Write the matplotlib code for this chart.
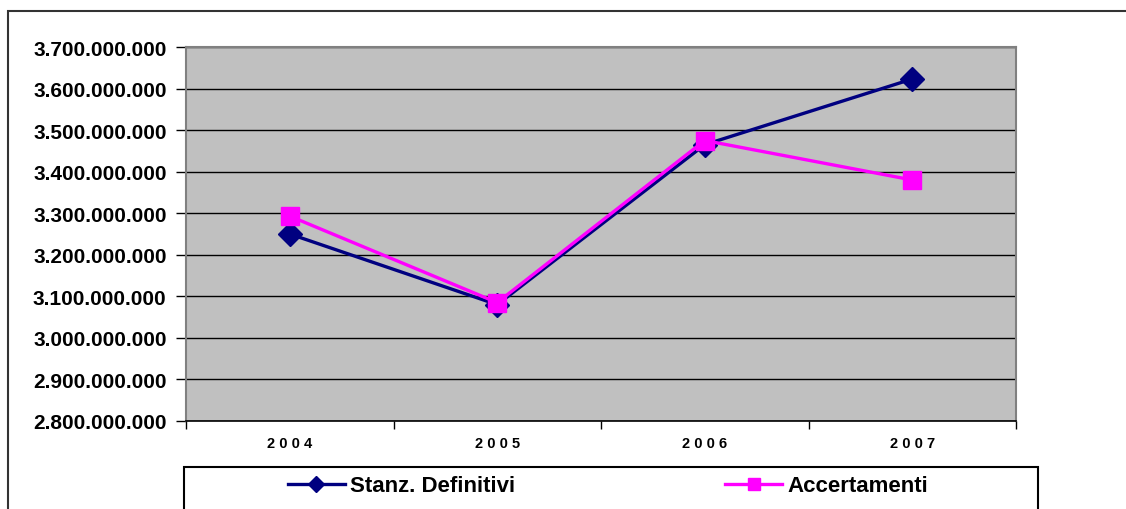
import matplotlib
matplotlib.use("Agg")
import matplotlib.pyplot as plt
from matplotlib.patches import Rectangle
from matplotlib.ticker import FixedLocator, FuncFormatter

years = ["2004", "2005", "2006", "2007"]
stanz = [3.250e9, 3.080e9, 3.465e9, 3.623e9]
accert = [3.293e9, 3.085e9, 3.475e9, 3.380e9]
yticks = [2.8e9, 2.9e9, 3.0e9, 3.1e9, 3.2e9, 3.3e9, 3.4e9, 3.5e9, 3.6e9, 3.7e9]

plt.rcParams['font.family'] = ['Liberation Sans', 'DejaVu Sans']

W, H = 1126, 510
fig = plt.figure(figsize=(W / 100, H / 100), dpi=100)
fig.patch.set_facecolor('white')

# outer chart frame
fig.patches.append(Rectangle((8 / W, -0.1), 1.2, (1 - 12 / H) + 0.1, transform=fig.transFigure,
                             fill=False, edgecolor='#333333', linewidth=1.5, clip_on=False))

ax = fig.add_axes([186 / W, 1 - 422 / H, (1016 - 186) / W, (422 - 48) / H])
ax.set_facecolor('#C0C0C0')

x = list(range(len(years)))
ax.plot(x, stanz, color='#000080', linewidth=2.4, marker='D', markersize=12,
        label='Stanz. Definitivi', zorder=3)
ax.plot(x, accert, color='#FF00FF', linewidth=2.4, marker='s', markersize=13.5,
        label='Accertamenti', zorder=4)

ax.set_xlim(-0.5, len(years) - 0.5)
ax.set_ylim(yticks[0], yticks[-1])
ax.set_yticks(yticks)
ax.yaxis.set_major_formatter(FuncFormatter(lambda v, p: f"{int(round(v)):,}".replace(",", ".")))
ax.grid(axis='y', color='#000000', linewidth=1.0)
ax.set_axisbelow(True)

ax.set_xticks(x)
ax.set_xticklabels([" ".join(y) for y in years], fontsize=10.5, fontweight='bold')
ax.xaxis.set_minor_locator(FixedLocator([i - 0.5 for i in range(len(years) + 1)]))
ax.tick_params(axis='x', which='major', length=0, pad=11)
ax.tick_params(axis='x', which='minor', length=6, width=1, color='#000000', direction='out')
ax.tick_params(axis='y', which='major', length=7, width=1, color='#000000', direction='out', pad=7)
for lbl in ax.get_yticklabels():
    lbl.set_fontsize(15)
    lbl.set_fontweight('bold')

for side in ['top', 'right', 'left']:
    ax.spines[side].set_color('#808080')
    ax.spines[side].set_linewidth(1.5)
ax.spines['bottom'].set_color('#000000')
ax.spines['bottom'].set_linewidth(1.2)

# legend frame
fig.patches.append(Rectangle((184 / W, -0.1), (1038 - 184) / W, (1 - 468 / H) + 0.1,
                             transform=fig.transFigure, fill=True, facecolor='white',
                             edgecolor='#000000', linewidth=1.5, clip_on=False))

leg = fig.legend(loc='center left', bbox_to_anchor=(288 / W, 1 - 487 / H), ncol=2,
                 frameon=False, borderpad=0, borderaxespad=0,
                 prop={'size': 16, 'weight': 'bold'}, handlelength=2.55,
                 handletextpad=0.25, columnspacing=9.45)
for h in leg.legend_handles:
    h.set_markersize(8)

fig.savefig('out.png', dpi=100, facecolor='white')
